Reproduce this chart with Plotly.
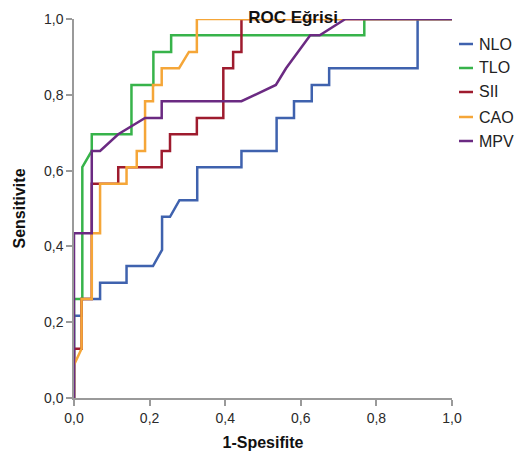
import plotly.graph_objects as go

# ---- data (1 - specificity, sensitivity) ----
series_names = ["NLO", "TLO", "SII", "CAO", "MPV"]

nlo_fpr = [0, 0, 0.020, 0.020, 0.069, 0.069, 0.139, 0.139, 0.209, 0.233, 0.233, 0.254, 0.279, 0.326, 0.326,
           0.443, 0.443, 0.536, 0.536, 0.582, 0.582, 0.629, 0.629, 0.675, 0.675, 0.909, 0.909, 1.0]
nlo_tpr = [0, 0.217, 0.217, 0.261, 0.261, 0.304, 0.304, 0.348, 0.348, 0.391, 0.478, 0.478, 0.522, 0.522, 0.609,
           0.609, 0.652, 0.652, 0.739, 0.739, 0.783, 0.783, 0.826, 0.826, 0.870, 0.870, 1.0, 1.0]

tlo_fpr = [0, 0, 0.022, 0.022, 0.047, 0.047, 0.152, 0.152, 0.210, 0.210, 0.257, 0.257, 0.768, 0.768, 1.0]
tlo_tpr = [0, 0.261, 0.261, 0.609, 0.652, 0.696, 0.696, 0.826, 0.826, 0.913, 0.913, 0.957, 0.957, 1.0, 1.0]

sii_fpr = [0, 0, 0.020, 0.020, 0.047, 0.047, 0.117, 0.117, 0.232, 0.232, 0.254, 0.254, 0.325, 0.325,
           0.395, 0.395, 0.421, 0.421, 0.443, 0.443, 1.0]
sii_tpr = [0, 0.130, 0.130, 0.261, 0.261, 0.565, 0.565, 0.609, 0.609, 0.652, 0.652, 0.696, 0.696, 0.739,
           0.739, 0.870, 0.870, 0.913, 0.913, 1.0, 1.0]

cao_fpr = [0, 0, 0.020, 0.020, 0.047, 0.047, 0.069, 0.069, 0.139, 0.139, 0.166, 0.166, 0.188, 0.188,
           0.209, 0.209, 0.232, 0.232, 0.278, 0.304, 0.325, 0.325, 1.0]
cao_tpr = [0, 0.087, 0.130, 0.261, 0.261, 0.435, 0.435, 0.565, 0.565, 0.609, 0.609, 0.652, 0.652, 0.783,
           0.783, 0.826, 0.826, 0.870, 0.870, 0.913, 0.913, 1.0, 1.0]

mpv_fpr = [0, 0, 0.047, 0.047, 0.069, 0.117, 0.188, 0.232, 0.232, 0.443, 0.534, 0.561, 0.625, 0.650, 0.718, 1.0]
mpv_tpr = [0, 0.435, 0.435, 0.652, 0.652, 0.696, 0.739, 0.739, 0.783, 0.783, 0.826, 0.870, 0.957, 0.957, 1.0, 1.0]

tick_vals = [0, 0.2, 0.4, 0.6, 0.8, 1.0]
tick_text = ["0,0", "0,2", "0,4", "0,6", "0,8", "1,0"]

colors = ["#3F62AE", "#37B34A", "#9E1B2E", "#F5A638", "#6B2A82"]
xs = [nlo_fpr, tlo_fpr, sii_fpr, cao_fpr, mpv_fpr]
ys = [nlo_tpr, tlo_tpr, sii_tpr, cao_tpr, mpv_tpr]

FONT = "Liberation Sans, Arial, sans-serif"

W, H = 516, 443  # the page body adds an 8 px offset, so the figure is sized to fit the window
ML, MR, MT, MB = 66, 72, 11, 53
PW, PH = W - ML - MR, H - MT - MB


def px_to_paper_x(px):  # figure pixel -> paper fraction
    return (px - ML) / PW


def px_to_paper_y(py):
    return 1 - (py - MT) / PH


fig = go.Figure()
for name, x, y, c in zip(series_names, xs, ys, colors):
    fig.add_trace(go.Scatter(x=x, y=y, mode="lines", name=name, showlegend=False,
                             line=dict(color=c, width=2.5), cliponaxis=False))

# legend drawn as a key at the right of the plot (short line + label)
legend_rows_px = [36, 60, 84, 109, 133]
for name, c, ry in zip(series_names, colors, legend_rows_px):
    yy = px_to_paper_y(ry)
    fig.add_shape(type="line", xref="paper", yref="paper", x0=px_to_paper_x(451), x1=px_to_paper_x(465),
                  y0=yy, y1=yy, line=dict(color=c, width=2.5))
    fig.add_annotation(xref="paper", yref="paper", x=px_to_paper_x(469), y=yy, text=name, showarrow=False,
                       xanchor="left", yanchor="middle", font=dict(size=16, color="#222", family=FONT))

axis_common = dict(range=[0, 1], tickvals=tick_vals, ticktext=tick_text, showgrid=False, zeroline=False,
                   showline=True, linecolor="#9a9a9a", linewidth=1.5, ticks="outside", ticklen=6,
                   tickcolor="#9a9a9a", tickwidth=1.5, automargin=False,
                   tickfont=dict(size=14, color="#2a2a2a", family=FONT))

fig.update_layout(
    width=W, height=H,
    margin=dict(l=ML, r=MR, t=MT, b=MB),
    paper_bgcolor="white", plot_bgcolor="white",
    font=dict(family=FONT, color="#222"),
    showlegend=False,
    title=dict(text="<b>ROC Eğrisi</b>", x=(293 - 8) / W, xanchor="center",
               y=1 - 9 / H, yanchor="middle",
               font=dict(size=17, color="#111", family=FONT)),
    xaxis=dict(**axis_common, title=dict(text="<b>1-Spesifite</b>", font=dict(size=16, color="#111"), standoff=19)),
    yaxis=dict(**axis_common, title=dict(text="<b>Sensitivite</b>", font=dict(size=16, color="#111"), standoff=14)),
)

fig.write_html("out.html")
